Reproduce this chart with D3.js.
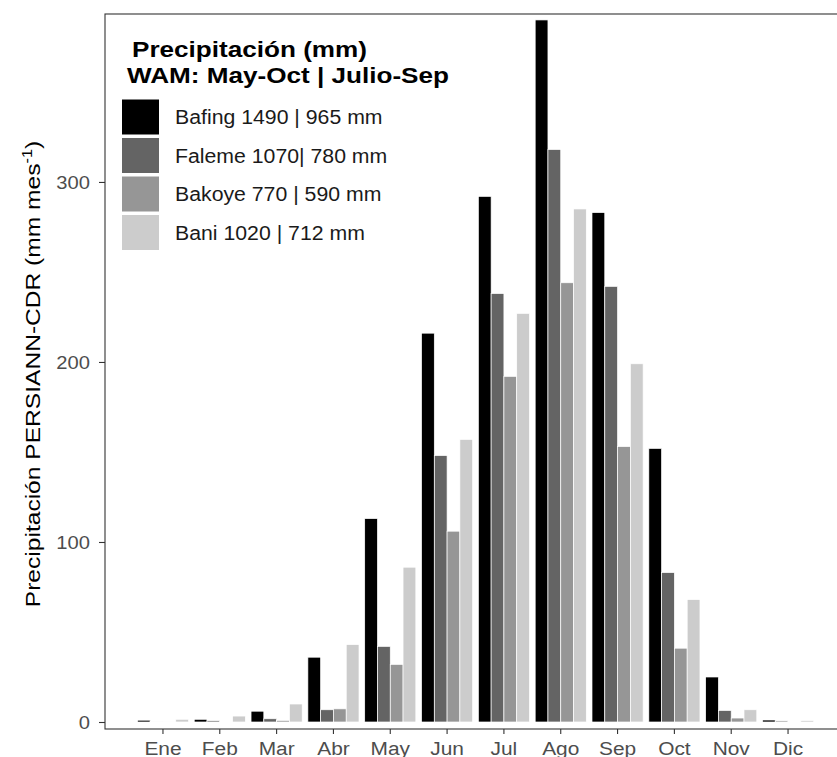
<!DOCTYPE html>
<html>
<head>
<meta charset="utf-8">
<script src="https://cdn.jsdelivr.net/npm/d3@7"></script>
<style>
  html, body { margin: 0; padding: 0; background: #ffffff; }
  text { font-family: "Liberation Sans", Arial, sans-serif; }
</style>
</head>
<body>
<svg id="chart" width="837" height="757"></svg>
<script>
// ---- data ----
const months = ["Ene","Feb","Mar","Abr","May","Jun","Jul","Ago","Sep","Oct","Nov","Dic"];
const seriesNames = ["Bafing","Faleme","Bakoye","Bani"];
const seriesLabels = ["Bafing 1490 | 965 mm","Faleme 1070| 780 mm","Bakoye 770 | 590 mm","Bani 1020 | 712 mm"];
const bafing = [1.0, 1.5, 6, 36, 113, 216, 292, 390, 283, 152, 25, 1.1];
const faleme = [0.4, 0.7, 1.8, 6.8, 42, 148, 238, 318, 242, 83, 6.4, 0.6];
const bakoye = [0.4, 0.2, 0.9, 7.3, 32, 106, 192, 244, 153, 41, 2.2, 0.3];
const bani   = [1.5, 3.3, 10, 43, 86, 157, 227, 285, 199, 68, 6.8, 0.8];
const yTicks = [0, 100, 200, 300];
const legendTitle = ["Precipitación (mm)", "WAM: May-Oct | Julio-Sep"];
const yTitle = "Precipitación PERSIANN-CDR (mm mes";

const seriesValues = [bafing, faleme, bakoye, bani];
const colors = ["#000000", "#646464", "#969696", "#cccccc"];

// ---- layout ----
const svg = d3.select("#chart");
const panel = {left: 105, right: 846, top: 14, bottom: 729};

function stretch(k) {
  return sel => sel.each(function() {
    const L = this.getComputedTextLength();
    d3.select(this).attr("textLength", L * k).attr("lengthAdjust", "spacingAndGlyphs");
  });
}

svg.append("rect").attr("width", 837).attr("height", 757).attr("fill", "#ffffff");

const x = d3.scaleBand().domain(months).range([panel.left, panel.right]).paddingInner(0).paddingOuter(0.52);
const inner = d3.scaleBand().domain(seriesNames).range([0, x.bandwidth() * 0.9]);
const y = d3.scaleLinear().domain([0, 393.3]).range([722, panel.top]);

// bars
const data = [];
months.forEach((m, i) => seriesNames.forEach((s, j) => data.push({m, s, j, v: seriesValues[j][i]})));

svg.append("g").selectAll("rect").data(data).join("rect")
  .attr("x", d => x(d.m) + x.bandwidth() * 0.05 + inner(d.s))
  .attr("width", inner.bandwidth())
  .attr("y", d => y(d.v))
  .attr("height", d => y(0) - y(d.v))
  .attr("fill", d => colors[d.j])
  .attr("stroke", "#ffffff")
  .attr("stroke-width", 0.7);

// panel frame
svg.append("rect")
  .attr("x", panel.left).attr("y", panel.top)
  .attr("width", panel.right - panel.left).attr("height", panel.bottom - panel.top)
  .attr("fill", "none").attr("stroke", "#333333").attr("stroke-width", 1.1);

// y axis
const yAxis = svg.append("g").attr("transform", `translate(${panel.left},0)`)
  .call(d3.axisLeft(y).tickValues(yTicks).tickSize(6).tickPadding(9).tickFormat(d3.format("d")));
yAxis.select(".domain").remove();
yAxis.selectAll(".tick line").attr("stroke", "#333333").attr("stroke-width", 1.1);
yAxis.selectAll(".tick text").attr("fill", "#4d4d4d").attr("font-size", 18)
  .attr("font-family", "Liberation Sans, Arial, sans-serif").attr("dy", "0.36em").call(stretch(1.12));

// x axis
const xAxis = svg.append("g").attr("transform", `translate(0,${panel.bottom})`)
  .call(d3.axisBottom(x).tickSize(5).tickPadding(7));
xAxis.select(".domain").remove();
xAxis.selectAll(".tick line").attr("stroke", "#333333").attr("stroke-width", 1.1);
xAxis.selectAll(".tick text").attr("fill", "#4d4d4d").attr("font-size", 18)
  .attr("font-family", "Liberation Sans, Arial, sans-serif").attr("dy", "0.75em").call(stretch(1.16));

// y title
const yt = svg.append("text")
  .attr("transform", "translate(40,374) rotate(-90)")
  .attr("text-anchor", "middle")
  .attr("font-size", 21)
  .attr("fill", "#000000");
yt.append("tspan").text(yTitle);
yt.append("tspan").attr("font-size", 14).attr("dy", -8).text("-1");
yt.append("tspan").attr("dy", 8).text(")");
yt.call(stretch(1.17));

// legend
const lg = svg.append("g");
lg.append("text").attr("x", 132).attr("y", 57).attr("font-size", 22.5).attr("font-weight", "bold")
  .attr("fill", "#000").text(legendTitle[0]).call(stretch(1.16));
lg.append("text").attr("x", 127).attr("y", 83).attr("font-size", 22.5).attr("font-weight", "bold")
  .attr("fill", "#000").text(legendTitle[1]).call(stretch(1.16));

const keyY = d3.scaleBand().domain(seriesNames).range([98, 98 + 38.5 * 4]);
lg.selectAll("rect.key").data(seriesNames).join("rect").attr("class", "key")
  .attr("x", 121.5).attr("y", d => keyY(d) + 1)
  .attr("width", 38).attr("height", 36)
  .attr("fill", (d, i) => colors[i]).attr("stroke", "#ffffff").attr("stroke-width", 1);
lg.selectAll("text.lab").data(seriesNames).join("text").attr("class", "lab")
  .attr("x", 175).attr("y", d => keyY(d) + 19 + 7.2)
  .attr("font-size", 19.5).attr("fill", "#1a1a1a")
  .text((d, i) => seriesLabels[i]).call(stretch(1.09));
</script>
</body>
</html>
